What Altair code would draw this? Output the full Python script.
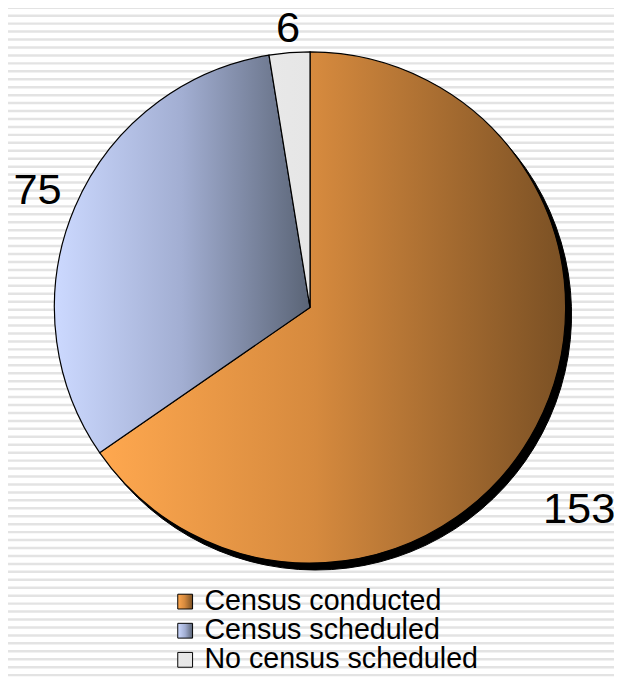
import math
import altair as alt
import pandas as pd

# ---- data ----
categories = ["Census conducted", "Census scheduled", "No census scheduled"]
values = [153, 75, 6]
order = [0, 1, 2]

df = pd.DataFrame({"category": categories, "value": values, "order": order})
total = sum(values)

stripe_idx = list(range(86))
stripes = pd.DataFrame({"i": stripe_idx})

# ---- layout ----
W, H = 614, 673
CX, CY, R = 306, 299, 259
FONT = "Liberation Sans"

def grad(stops):
    return alt.Gradient(
        gradient="linear",
        stops=[alt.GradientStop(offset=o, color=c) for o, c in stops],
        x1=0, x2=1, y1=0, y2=0,
    )

fills = {
    "Census conducted": grad([(0, "#FFA84F"), (0.46, "#D68A3E"), (1, "#7A5024")]),
    "Census scheduled": grad([(0, "#CCD9FF"), (0.5, "#A2AED2"), (1, "#5A6476")]),
    "No census scheduled": grad([(0, "#E8E8E8"), (1, "#E6E6E6")]),
}

label_offsets = {
    "Census conducted": (7, 66),
    "Census scheduled": (0, 0),
    "No census scheduled": (2, 17),
}

theta_scale = alt.Scale(domain=[0, total], range=[0, 2 * math.pi])

base = (
    alt.Chart(df)
    .transform_window(v1="sum(value)", sort=[alt.SortField("order")])
    .transform_calculate(v0="datum.v1 - datum.value")
)

# background stripes
bg = (
    alt.Chart(stripes)
    .mark_rule(color="#e3e3e3", strokeWidth=2.5)
    .encode(
        y=alt.Y("i:Q", scale=alt.Scale(domain=[0, 85], range=[-4.7, -4.7 + 8.05 * 85]), axis=None),
        x=alt.value(0),
        x2=alt.value(W),
    )
)

shadow = base.mark_arc(fill="black", stroke="black", strokeWidth=1, radius=R).encode(
    theta=alt.Theta("v0:Q", scale=theta_scale),
    theta2="v1:Q",
    x=alt.value(CX + 6),
    y=alt.value(CY + 7),
)

layers = [bg, shadow]

for cat in categories:
    layers.append(
        base.transform_filter(alt.datum.category == cat)
        .mark_arc(fill=fills[cat], stroke="black", strokeWidth=1.2, radius=R)
        .encode(
            theta=alt.Theta("v0:Q", scale=theta_scale),
            theta2="v1:Q",
            x=alt.value(CX),
            y=alt.value(CY),
        )
    )

LR = 300
for cat in categories:
    dx, dy = label_offsets[cat]
    layers.append(
        base.transform_filter(alt.datum.category == cat)
        .transform_calculate(
            mid=f"(datum.v0 + datum.v1) / 2 / {total} * 2 * PI",
        )
        .transform_calculate(
            lx=f"{CX} + {LR} * sin(datum.mid)",
            ly=f"{CY} - {LR} * cos(datum.mid)",
        )
        .mark_text(font=FONT, fontSize=44, color="black", dx=dx, dy=dy,
                   align="center", baseline="middle")
        .encode(
            x=alt.X("lx:Q", scale=None, axis=None),
            y=alt.Y("ly:Q", scale=None, axis=None),
            text="value:Q",
        )
    )

# legend (drawn manually)
leg_y = alt.Y("category:N", scale=alt.Scale(type="point", domain=categories, range=[597, 656], padding=0), axis=None)
for cat in categories:
    layers.append(
        alt.Chart(df)
        .transform_filter(alt.datum.category == cat)
        .mark_square(size=15 * 15, fill=fills[cat], stroke="black", strokeWidth=1, opacity=1)
        .encode(x=alt.value(179.5), y=leg_y)
    )
layers.append(
    alt.Chart(df)
    .mark_text(font=FONT, fontSize=29, color="black", align="left", baseline="middle", dy=-1)
    .encode(x=alt.value(199), y=leg_y, text="category:N")
)

chart = (
    alt.layer(*layers)
    .resolve_scale(x="independent", y="independent")
    .properties(width=W, height=H, padding=0, autosize=alt.AutoSizeParams(type="none"), background="white")
    .configure_view(stroke=None)
)

chart.save("out.html", embed_options={"renderer": "svg", "actions": False})
